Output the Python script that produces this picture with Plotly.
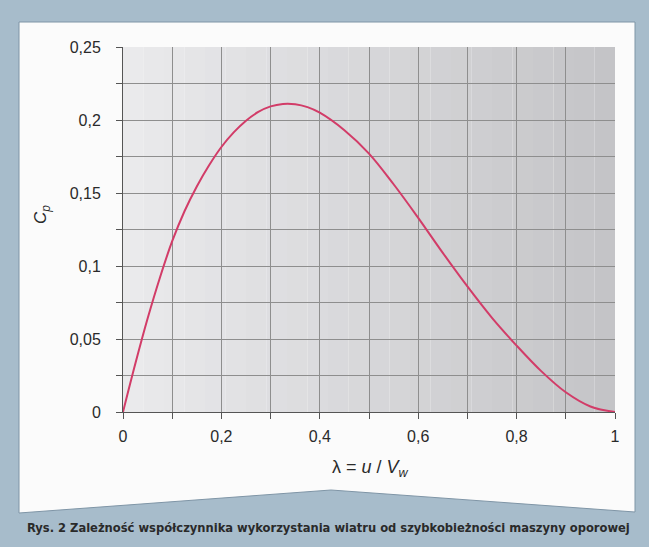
import plotly.graph_objects as go

# ---- data ----
lam = [0.0, 0.025, 0.05, 0.075, 0.1, 0.125, 0.15, 0.175, 0.2, 0.225, 0.25,
       0.275, 0.3, 0.325, 0.35, 0.375, 0.4, 0.45, 0.5, 0.55, 0.6, 0.65, 0.7,
       0.75, 0.8, 0.85, 0.9, 0.95, 1.0]
cp = [0.0, 0.033, 0.064, 0.092, 0.117, 0.1375, 0.1545, 0.169, 0.1815, 0.1915,
      0.1995, 0.2055, 0.2093, 0.211, 0.2108, 0.2088, 0.205, 0.193, 0.177,
      0.156, 0.133, 0.109, 0.086, 0.0645, 0.0455, 0.028, 0.0135, 0.0038, 0.0]

y_tickvals = [0, 0.05, 0.1, 0.15, 0.2, 0.25]
y_ticktext = ["0", "0,05", "0,1", "0,15", "0,2", "0,25"]
y_minor = [0.025, 0.075, 0.125, 0.175, 0.225]
x_tickvals = [0, 0.2, 0.4, 0.6, 0.8, 1.0]
x_ticktext = ["0", "0,2", "0,4", "0,6", "0,8", "1"]
x_minor = [0.1, 0.3, 0.5, 0.7, 0.9]

x_title = "λ = <i>u</i> / <i>V</i><sub><i>w</i></sub>"
y_title = "<i>C</i><sub><i>p</i></sub>"
caption = "Rys. 2 Zależność współczynnika wykorzystania wiatru od szybkobieżności maszyny oporowej"

W, H = 649, 547
L, R, T, B = 123, 34, 47, 135
PW, PH = W - L - R, H - T - B


def px(x):
    return (x - L) / PW


def py(y):
    return (H - B - y) / PH


fig = go.Figure()
fig.add_trace(go.Scatter(x=lam, y=cp, mode="lines",
                         line=dict(color="#d23c68", width=2, shape="spline", smoothing=1.0),
                         showlegend=False, hoverinfo="skip"))

shapes = []
# white panel with chevron bottom
path = (f"M {px(19)},{py(22)} L {px(635)},{py(22)} L {px(635)},{py(512)} "
        f"L {px(331)},{py(490)} L {px(19)},{py(513)} Z")
shapes.append(dict(type="path", xref="paper", yref="paper", path=path,
                   fillcolor="#fbfbfb", line=dict(color="#7f95a6", width=1), layer="below"))
# gradient background of the plot area (light left -> darker right)
n = 24
for i in range(n):
    t = i / (n - 1)
    c0 = (234, 234, 236)
    c1 = (196, 196, 199)
    c = tuple(int(round(c0[k] + (c1[k] - c0[k]) * t)) for k in range(3))
    shapes.append(dict(type="rect", xref="x domain", yref="y domain",
                       x0=i / n, x1=(i + 1) / n, y0=0, y1=1,
                       fillcolor=f"rgb{c}", line=dict(width=0), layer="below"))

grid = "#8e8e8e"
fig.update_layout(
    width=W, height=H,
    margin=dict(l=L, r=R, t=T, b=B),
    paper_bgcolor="#a7bccb",
    plot_bgcolor="rgba(0,0,0,0)",
    shapes=shapes,
    font=dict(family="Liberation Sans, Arial, sans-serif", color="#2a2a2a", size=16),
    xaxis=dict(range=[0, 1], tickvals=x_tickvals, ticktext=x_ticktext,
               showgrid=True, gridcolor=grid, gridwidth=1,
               showline=True, linecolor="#555", linewidth=1,
               ticks="outside", ticklen=6, tickcolor="#555", zeroline=False,
               ticklabelstandoff=4,
               minor=dict(tickvals=x_minor, ticks="outside", ticklen=6,
                          tickcolor="#555", showgrid=True, gridcolor=grid, gridwidth=1)),
    yaxis=dict(range=[0, 0.25], tickvals=y_tickvals, ticktext=y_ticktext,
               showgrid=True, gridcolor=grid, gridwidth=1,
               showline=True, linecolor="#555", linewidth=1,
               ticks="outside", ticklen=6, tickcolor="#555", zeroline=False,
               ticklabelstandoff=12,
               minor=dict(tickvals=y_minor, ticks="outside", ticklen=6,
                          tickcolor="#555", showgrid=True, gridcolor=grid, gridwidth=1)),
    annotations=[
        dict(text=caption, xref="paper", yref="paper",
             x=px(328), y=py(527), xanchor="center", yanchor="middle",
             showarrow=False,
             font=dict(family="DejaVu Sans Condensed, DejaVu Sans, sans-serif",
                       size=12.8, color="#2a2a2a", weight="bold")),
        dict(text=x_title, xref="paper", yref="paper",
             x=px(370), y=py(468), xanchor="center", yanchor="middle",
             showarrow=False, font=dict(size=18, color="#2a2a2a")),
        dict(text=y_title, xref="paper", yref="paper",
             x=px(42), y=py(215), xanchor="center", yanchor="middle",
             textangle=-90, showarrow=False, font=dict(size=17, color="#2a2a2a")),
    ],
)

fig.write_html("out.html")
